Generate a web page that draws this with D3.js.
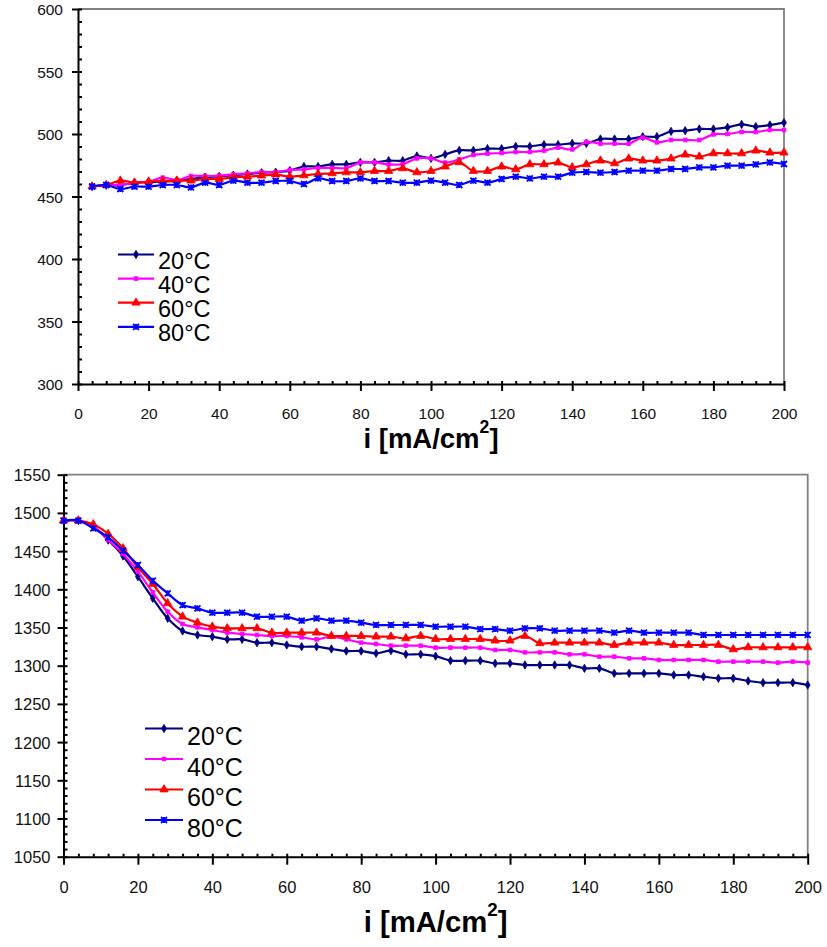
<!DOCTYPE html>
<html><head><meta charset="utf-8">
<script src="https://cdn.jsdelivr.net/npm/d3@7"></script>
<style>
html,body{margin:0;padding:0;background:#fff;}
svg{display:block;}
</style></head><body>
<svg id="chart" width="827" height="947"></svg>
<script>
// ---------- DATA ----------
const seriesNames = ["20°C", "40°C", "60°C", "80°C"];
const xTickLabels = [0, 20, 40, 60, 80, 100, 120, 140, 160, 180, 200];
const yTicksTop = [300, 350, 400, 450, 500, 550, 600];
const yTicksBottom = [1050, 1100, 1150, 1200, 1250, 1300, 1350, 1400, 1450, 1500, 1550];

const xTop = [4, 8, 12, 16, 20, 24, 28, 32, 36, 40, 44, 48, 52, 56, 60, 64, 68, 72, 76, 80,
  84, 88, 92, 96, 100, 104, 108, 112, 116, 120, 124, 128, 132, 136, 140, 144, 148, 152, 156, 160,
  164, 168, 172, 176, 180, 184, 188, 192, 196, 200];
const top20 = [458, 459, 459, 461, 461.5, 462, 462.5, 464, 465.5, 466,
  467, 468, 469, 469.5, 470.7, 474, 474, 475.7, 475.7, 477.3,
  477.3, 478.7, 478.7, 482.4, 480.5, 483.7, 486.9, 486.9, 488.3, 488.3,
  490.1, 490.1, 491.5, 491.5, 492.5, 492.5, 496, 496, 496, 497.9,
  497.9, 502.1, 502.7, 504, 504, 505.3, 507.7, 505.9, 507.2, 509.1];
const top40 = [458, 459.2, 459.2, 461.1, 461.9, 465.1, 463.2, 466.4, 466.4, 466.7,
  467.7, 468.5, 469.6, 469.6, 471.2, 471.7, 472.8, 472.8, 472.8, 477.3,
  477.3, 475.7, 476, 480.5, 480.5, 477.1, 479.7, 483.2, 484.3, 484.8,
  485.6, 485.6, 486.7, 489.1, 487.7, 493.6, 492.3, 492.3, 492.3, 497.1,
  493.3, 495.2, 495.2, 495.2, 499.7, 500, 501.6, 501.6, 503.2, 503.2];
const top60 = [458, 459.2, 462.7, 461.1, 461.9, 462.4, 462.7, 462.7, 464, 464,
  465.3, 465.9, 466.7, 467.5, 465.9, 466.9, 468, 468.5, 469.3, 469.3,
  470.4, 470.4, 472.5, 469.3, 470.4, 473.9, 477.3, 470.4, 470.4, 473.9,
  471.7, 475.7, 475.7, 477.1, 473.3, 475.7, 478.7, 476.5, 480.3, 478.7,
  478.7, 480.3, 483.5, 481.9, 484.5, 484.5, 484.5, 486.7, 485.1, 485.1];
const top80 = [458, 459.2, 456, 457.9, 457.9, 459.2, 459.2, 457.3, 461.1, 459.2,
  462.7, 461.1, 461.1, 462.4, 462.4, 460, 464.5, 462.4, 462.4, 464.5,
  462.4, 462.4, 461.1, 461.1, 462.7, 461.1, 459.2, 462.7, 461.1, 464,
  465.9, 464.5, 465.9, 465.9, 469.1, 469.6, 469.1, 469.6, 470.7, 470.7,
  470.7, 472, 472, 473.3, 473.3, 474.7, 474.7, 475.7, 477.3, 476];

const xBottom = [0, 4, 8, 12, 16, 20, 24, 28, 32, 36, 40, 44, 48, 52, 56, 60, 64, 68, 72, 76, 80,
  84, 88, 92, 96, 100, 104, 108, 112, 116, 120, 124, 128, 132, 136, 140, 144, 148, 152, 156, 160,
  164, 168, 172, 176, 180, 184, 188, 192, 196, 200];
const bot20 = [1490, 1490, 1482, 1464.5, 1443.6, 1416.5, 1388.2, 1362, 1345.4, 1340.2,
  1338, 1334.5, 1334.5, 1330.1, 1330.1, 1327.1, 1324.9, 1324.9, 1321.9, 1319.2,
  1319.2, 1316.2, 1319.7, 1314.9, 1314.9, 1312.5, 1306.6, 1306.6, 1306.6, 1303.1,
  1303.1, 1300.9, 1300.9, 1300.9, 1300.9, 1296.6, 1296.6, 1290, 1290, 1290,
  1290, 1287.8, 1287.8, 1285.6, 1283.5, 1283.5, 1280, 1277.8, 1277.8, 1277.8, 1274.7];
const bot40 = [1490, 1490, 1483, 1464.5, 1446.2, 1423.1, 1396, 1370.7, 1354.6, 1350.2,
  1346.7, 1343.2, 1341.5, 1340.2, 1338.9, 1338.9, 1337.1, 1334.5, 1338, 1334.5,
  1330.1, 1328.4, 1326.2, 1326.2, 1326.2, 1323.6, 1323.6, 1323.6, 1323.6, 1320.6,
  1320.6, 1317.5, 1317.5, 1317.5, 1314.9, 1314.9, 1311.8, 1311.8, 1309.6, 1309.6,
  1307.5, 1307.5, 1307.5, 1307.5, 1305.3, 1305.3, 1305.3, 1305.3, 1304, 1305.3, 1304];
const bot60 = [1490, 1490, 1485, 1472.4, 1453.6, 1428.7, 1407, 1381.6, 1364.2, 1356.3,
  1351.1, 1348.9, 1348.9, 1348.9, 1343.2, 1343.2, 1343.2, 1343.2, 1338.9, 1338.9,
  1338.9, 1338, 1338, 1335.8, 1338.9, 1334.9, 1334.9, 1334.9, 1334.9, 1332.8,
  1332.8, 1338.9, 1329.3, 1330.1, 1330.1, 1330.1, 1330.1, 1327.1, 1330.1, 1330.1,
  1330.1, 1327.1, 1327.1, 1327.1, 1327.1, 1321.4, 1324, 1324, 1324, 1324, 1324];
const bot80 = [1490, 1490, 1479.8, 1468, 1450.6, 1431.8, 1411.3, 1394.7, 1379.4, 1375.1,
  1369.4, 1369.4, 1369.4, 1364.2, 1364.2, 1364.2, 1358.9, 1362, 1358.9, 1358.9,
  1356.3, 1353.3, 1353.3, 1353.3, 1353.3, 1351.1, 1351.1, 1351.1, 1348, 1348,
  1345.9, 1348.9, 1348.9, 1345.9, 1345.9, 1345.9, 1345.9, 1343.2, 1345.9, 1343.2,
  1343.2, 1343.2, 1343.2, 1340.2, 1340.2, 1340.2, 1340.2, 1340.2, 1340.2, 1340.2, 1340.2];

// ---------- STYLE ----------
const FONT = "'Liberation Sans', Arial, Helvetica, sans-serif";
const colors = ["#000080", "#FF00FF", "#FF0000", "#0000FF"];
const starSymbol = {
  draw(ctx, size) {
    const r = Math.sqrt(size) / 2;
    ctx.moveTo(-r, -r); ctx.lineTo(r, r);
    ctx.moveTo(-r, r); ctx.lineTo(r, -r);
    ctx.moveTo(0, -r); ctx.lineTo(0, r);
  }
};
const markers = [
  { type: d3.symbolDiamond, size: 20, filled: true },
  { type: d3.symbolSquare, size: 14, filled: true },
  { type: d3.symbolTriangle, size: 30, filled: true },
  { type: starSymbol, size: 36, filled: false }
];

const svg = d3.select("#chart");

function drawMarker(sel, i) {
  const m = markers[i];
  sel.attr("d", d3.symbol().type(m.type).size(m.size))
    .attr("fill", m.filled ? colors[i] : "none")
    .attr("stroke", colors[i])
    .attr("stroke-width", m.filled ? 0.8 : 1.8);
}

function drawChart(cfg) {
  const x = d3.scaleLinear().domain([0, 200]).range([cfg.left, cfg.right]);
  const y = d3.scaleLinear().domain(cfg.yDomain).range([cfg.bottom, cfg.top]);
  const g = svg.append("g");

  // grey frame (top and right)
  g.append("path")
    .attr("d", d3.line()([[x(0), y(cfg.yDomain[1])], [x(200), y(cfg.yDomain[1])], [x(200), y(cfg.yDomain[0])]]))
    .attr("fill", "none").attr("stroke", "#808080").attr("stroke-width", 1.8);

  // minor ticks
  const yMinor = d3.range(cfg.yDomain[0], cfg.yDomain[1] + 1, 10).filter(v => !cfg.yTicks.includes(v));
  const xMinor = d3.range(0, 201, 4).filter(v => !xTickLabels.includes(v));
  g.append("g").attr("transform", `translate(${cfg.left},0)`)
    .call(d3.axisLeft(y).tickValues(yMinor).tickSize(-4).tickSizeOuter(0).tickFormat(""))
    .call(s => s.select(".domain").remove())
    .selectAll(".tick line").attr("stroke", "#000").attr("stroke-width", 2);
  g.append("g").attr("transform", `translate(0,${cfg.bottom})`)
    .call(d3.axisBottom(x).tickValues(xMinor).tickSize(-3).tickSizeOuter(0).tickFormat(""))
    .call(s => s.select(".domain").remove())
    .selectAll(".tick line").attr("stroke", "#000").attr("stroke-width", 2);

  // major y axis
  const ya = g.append("g").attr("transform", `translate(${cfg.left},0)`)
    .call(d3.axisLeft(y).tickValues(cfg.yTicks).tickSize(6).tickSizeOuter(0)
      .tickPadding(cfg.yPad).tickFormat(d3.format("d")));
  ya.attr("font-family", FONT).attr("font-size", cfg.tickFont);
  ya.select(".domain").attr("stroke", "#000").attr("stroke-width", 2);
  ya.selectAll(".tick line").attr("x1", 4).attr("stroke", "#000").attr("stroke-width", 2);
  ya.selectAll(".tick text").attr("fill", "#111").attr("dy", "0.36em");

  // major x axis
  const xa = g.append("g").attr("transform", `translate(0,${cfg.bottom})`)
    .call(d3.axisBottom(x).tickValues(xTickLabels).tickSize(cfg.xTickLen).tickSizeOuter(0)
      .tickFormat(d3.format("d")));
  xa.attr("font-family", FONT).attr("font-size", cfg.tickFont);
  xa.select(".domain").attr("stroke", "#000").attr("stroke-width", 2);
  xa.selectAll(".tick line").attr("y1", -3).attr("stroke", "#000").attr("stroke-width", 2);
  xa.selectAll(".tick text").attr("fill", "#111").attr("y", cfg.xLabelY).attr("dy", null);

  // axis title
  const t = g.append("text")
    .attr("x", (cfg.left + cfg.right) / 2).attr("y", cfg.titleY)
    .attr("text-anchor", "middle").attr("font-family", FONT)
    .attr("font-weight", "bold").attr("font-size", cfg.titleFont).attr("fill", "#000");
  t.append("tspan").text("i [mA/cm");
  t.append("tspan").text("2").attr("font-size", cfg.titleFont * 0.64).attr("dy", -cfg.titleFont * 0.55);
  t.append("tspan").text("]").attr("dy", cfg.titleFont * 0.55);

  // series
  const line = d3.line().x(d => x(d[0])).y(d => y(d[1])).curve(d3.curveCatmullRom.alpha(0.5));
  cfg.series.forEach((vals, i) => {
    const pts = cfg.xs.map((xv, j) => [xv, vals[j]]);
    g.append("path").attr("d", line(pts)).attr("fill", "none")
      .attr("stroke", colors[i]).attr("stroke-width", 2.2).attr("stroke-linejoin", "round");
    g.append("g").selectAll("path").data(pts).join("path")
      .attr("transform", d => `translate(${x(d[0])},${y(d[1])})`)
      .call(drawMarker, i);
  });

  // legend
  const lg = g.append("g");
  seriesNames.forEach((name, i) => {
    const by = cfg.legY + i * cfg.legStep;
    const ly = by - cfg.legLineOff;
    lg.append("line").attr("x1", cfg.legX1).attr("x2", cfg.legX2).attr("y1", ly).attr("y2", ly)
      .attr("stroke", colors[i]).attr("stroke-width", 2.2);
    lg.append("path").attr("transform", `translate(${(cfg.legX1 + cfg.legX2) / 2},${ly})`).call(drawMarker, i);
    lg.append("text").attr("x", cfg.legX2 + 4).attr("y", by)
      .attr("font-family", FONT).attr("font-size", cfg.legFont).attr("fill", "#000").text(name);
  });
}

drawChart({
  left: 78, right: 784, top: 9, bottom: 384, yDomain: [300, 600], yTicks: yTicksTop,
  yPad: 9, tickFont: 15.5, xTickLen: 7, xLabelY: 35, titleY: 448, titleFont: 27.5,
  xs: xTop, series: [top20, top40, top60, top80],
  legX1: 118, legX2: 154, legY: 269, legStep: 24.1, legLineOff: 14.5, legFont: 23.5
});

drawChart({
  left: 63.5, right: 807.7, top: 474.7, bottom: 856.7, yDomain: [1050, 1550], yTicks: yTicksBottom,
  yPad: 7, tickFont: 16.5, xTickLen: 8, xLabelY: 36.5, titleY: 932, titleFont: 29.3,
  xs: xBottom, series: [bot20, bot40, bot60, bot80],
  legX1: 145, legX2: 183, legY: 745, legStep: 30.5, legLineOff: 16.5, legFont: 25
});
</script>
</body></html>
